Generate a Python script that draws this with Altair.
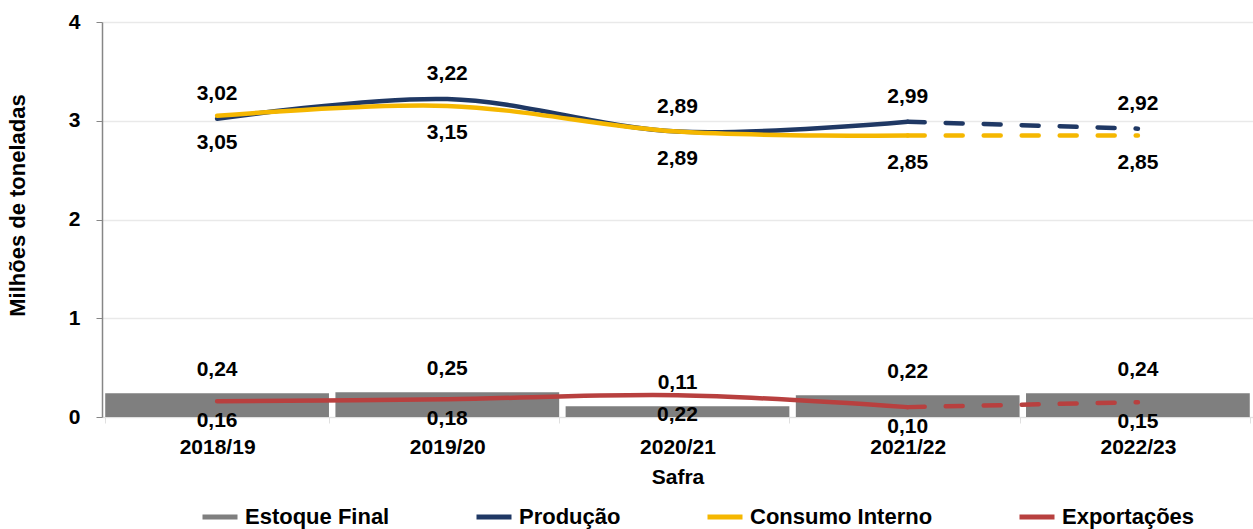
import altair as alt
import pandas as pd

# Crop years and series (million tonnes)
safras = ["2018/19", "2019/20", "2020/21", "2021/22", "2022/23"]
estoque_final = [0.24, 0.25, 0.11, 0.22, 0.24]
producao = [3.02, 3.22, 2.89, 2.99, 2.92]
consumo_interno = [3.05, 3.15, 2.89, 2.85, 2.85]
exportacoes = [0.16, 0.18, 0.22, 0.10, 0.15]

series_names = ["Estoque Final", "Produção", "Consumo Interno", "Exportações"]
series_colors = ["#7f7f7f", "#1f3864", "#f5b700", "#b8403f"]
series_values = [estoque_final, producao, consumo_interno, exportacoes]

# Last crop year is a projection: drawn dashed from the previous one
n_hist = 4

rows = []
for name, vals in zip(series_names, series_values):
    for i, (s, v) in enumerate(zip(safras, vals)):
        rows.append({
            "safra": s,
            "serie": name,
            "valor": v,
            "idx": i,
            "rotulo": f"{v:.2f}".replace(".", ","),
        })
df = pd.DataFrame(rows)

FONT = "Liberation Sans"

x_enc = alt.X(
    "safra:N",
    sort=safras,
    scale=alt.Scale(paddingInner=0.028, paddingOuter=0.014),
    axis=alt.Axis(
        title="Safra",
        labelAngle=0,
        labelFontSize=21,
        labelFontWeight="bold",
        labelColor="#000000",
        labelPadding=13,
        tickSize=6,
        tickBand="extent",
        tickColor="#e0e0e0",
        domainColor="#e0e0e0",
        titleFontSize=21,
        titleFontWeight="bold",
        titleColor="#000000",
        titlePadding=9,
        grid=False,
    ),
)

y_scale = alt.Scale(domain=[0, 4], nice=False)
y_enc = alt.Y(
    "valor:Q",
    scale=y_scale,
    axis=alt.Axis(
        title="Milhões de toneladas",
        values=[0, 1, 2, 3, 4],
        format="d",
        labelFontSize=21,
        labelFontWeight="bold",
        labelColor="#000000",
        labelPadding=16,
        tickSize=6,
        tickColor="#868686",
        domainColor="#868686",
        domainWidth=1.5,
        titleFontSize=22,
        titleFontWeight="bold",
        titleColor="#000000",
        titlePadding=39,
        titleY=183,
        grid=True,
        gridColor="#e9e9e9",
        gridWidth=1.5,
    ),
)

color_enc = alt.Color(
    "serie:N",
    scale=alt.Scale(domain=series_names, range=series_colors),
    legend=alt.Legend(
        title=None,
        orient="none",
        direction="horizontal",
        legendX=98,
        legendY=475,
        symbolType="stroke",
        symbolStrokeWidth=5,
        symbolSize=1225,
        labelFontSize=22,
        labelFontWeight="bold",
        labelColor="#000000",
        labelOffset=5,
        labelLimit=400,
        columnPadding=76,
        padding=0,
    ),
)

bars = alt.Chart(df[df["serie"] == "Estoque Final"]).mark_bar(
    color="#7f7f7f"
).encode(x=x_enc, y=y_enc)

line_layers = []
for name in ["Exportações", "Produção", "Consumo Interno"]:
    d = df[df["serie"] == name]
    solid = alt.Chart(d[d["idx"] < n_hist]).mark_line(
        interpolate="catmull-rom", strokeWidth=4.5, strokeCap="round"
    ).encode(x=x_enc, y=y_enc, color=color_enc, order="idx:Q")
    dashed = alt.Chart(d[d["idx"] >= n_hist - 1]).mark_line(
        strokeWidth=4.5, strokeCap="round", strokeDash=[17, 21]
    ).encode(x=x_enc, y=y_enc, color=color_enc, order="idx:Q")
    line_layers += [solid, dashed]


def value_labels(name, dy):
    return alt.Chart(df[df["serie"] == name]).mark_text(
        dy=dy, fontSize=21, fontWeight="bold", color="#000000", font=FONT
    ).encode(x=x_enc, y=y_enc, text="rotulo:N")


text_layers = [
    value_labels("Produção", -25),
    value_labels("Consumo Interno", 27),
    value_labels("Estoque Final", -23),
    value_labels("Exportações", 20),
]

chart = alt.layer(bars, *line_layers, *text_layers).properties(
    width=1151,
    height=395,
    padding={"left": 102, "top": 22, "right": 0, "bottom": 112},
    autosize=alt.AutoSizeParams(type="none"),
).configure(
    font=FONT,
).configure_view(
    stroke=None,
)

chart.save("out.html", embed_options={"renderer": "svg", "actions": False})
